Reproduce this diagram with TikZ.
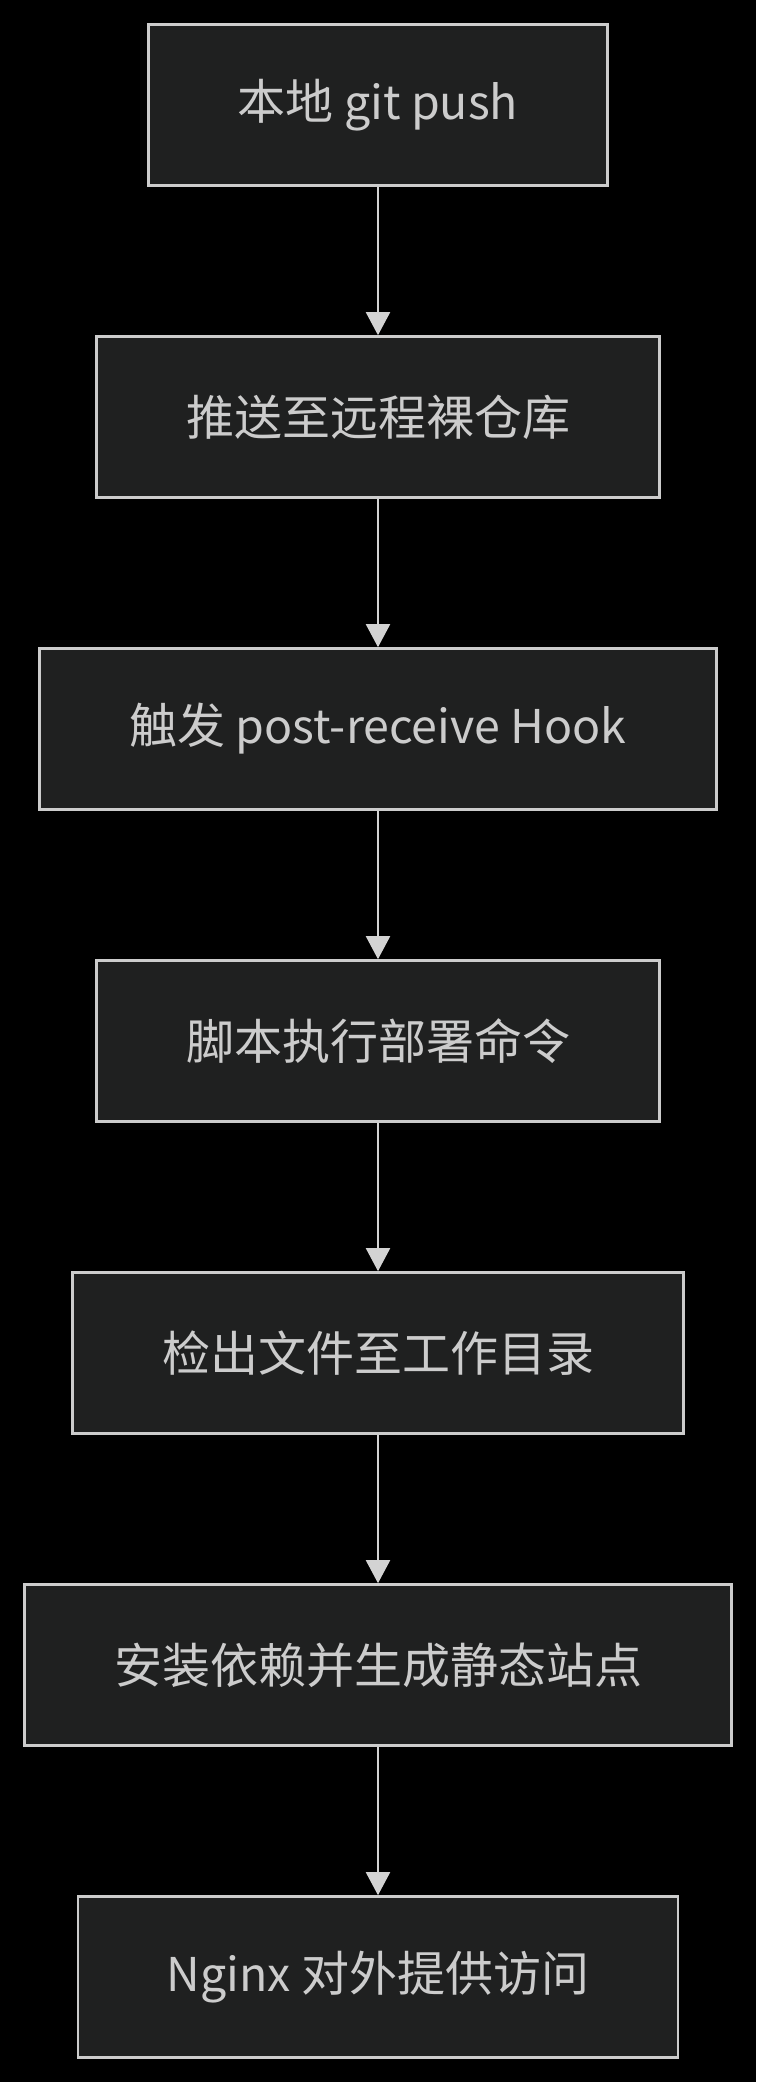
\documentclass[tikz,border=0pt]{standalone}
\usepackage{fontspec}
\setmainfont{Noto Sans CJK SC}
\usetikzlibrary{arrows.meta}
\definecolor{boxfill}{HTML}{1F2020}
\definecolor{boxline}{HTML}{CCCCCC}
\definecolor{edgecol}{HTML}{D3D3D3}
\definecolor{txtcol}{HTML}{CCCCCC}
\newcommand{\latw}[1]{{\fontsize{46.5}{58}\selectfont #1}}
\begin{document}
\begin{tikzpicture}[x=1pt,y=-1pt,
  flowbox/.style={draw=boxline, fill=boxfill, line width=2.6pt, text=txtcol,
    font=\fontsize{48}{58}\selectfont, minimum height=161pt, inner sep=0pt},
  flow/.style={draw=edgecol, line width=2pt, -{Triangle[length=23pt,width=24pt]}}]
\fill[black] (0,0) rectangle (756,2082);
\useasboundingbox (0,0) rectangle (756,2082);
\node[flowbox, minimum width=459pt] (n1) at (378,105) {本地\latw{ git push}};
\node[flowbox, minimum width=563pt] (n2) at (378,417) {推送至远程裸仓库};
\node[flowbox, minimum width=677pt] (n3) at (378,729) {触发\latw{ post-receive Hook}};
\node[flowbox, minimum width=563pt] (n4) at (378,1041) {脚本执行部署命令};
\node[flowbox, minimum width=611pt] (n5) at (378,1353) {检出文件至工作目录};
\node[flowbox, minimum width=707pt] (n6) at (378,1665) {安装依赖并生成静态站点};
\node[flowbox, minimum width=600pt] (n7) at (378,1977) {\latw{Nginx }对外提供访问};
\draw[flow] (n1) -- (n2);
\draw[flow] (n2) -- (n3);
\draw[flow] (n3) -- (n4);
\draw[flow] (n4) -- (n5);
\draw[flow] (n5) -- (n6);
\draw[flow] (n6) -- (n7);
\end{tikzpicture}
\end{document}
